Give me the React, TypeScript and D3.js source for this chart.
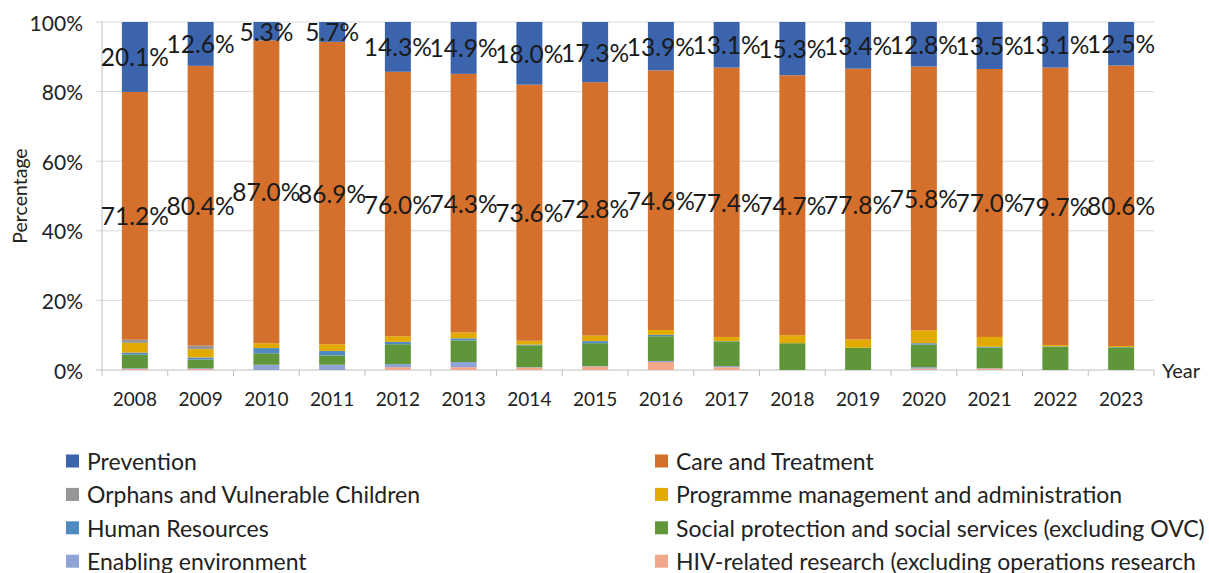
import React from 'react';
import * as d3 from 'd3';

const years = ['2008','2009','2010','2011','2012','2013','2014','2015','2016','2017','2018','2019','2020','2021','2022','2023'];
const prevention = [20.1,12.6,5.3,5.7,14.3,14.9,18.0,17.3,13.9,13.1,15.3,13.4,12.8,13.5,13.1,12.5];
const careTreatment = [71.2,80.4,87.0,86.9,76.0,74.3,73.6,72.8,74.6,77.4,74.7,77.8,75.8,77.0,79.7,80.6];
const orphans = [0.9,1.0,0,0,0,0,0,0,0,0,0,0,0,0,0,0];
const progMgmt = [2.8,2.4,1.4,1.9,1.6,1.7,1.1,1.6,1.4,1.2,2.3,2.4,3.7,2.8,0.4,0.3];
const humanRes = [0.6,0.6,1.5,1.3,0.7,0.6,0.2,0.6,0.4,0.1,0,0,0.4,0.2,0.1,0.1];
const socialProt = [3.9,2.5,3.3,2.7,5.7,6.2,6.3,6.6,7.1,7.1,7.7,6.4,6.5,6.0,6.7,6.5];
const enabling = [0.2,0.2,1.5,1.5,0.9,1.5,0.1,0.1,0.3,0.3,0,0,0.4,0.1,0,0];
const research = [0.3,0.3,0,0,0.8,0.8,0.7,1.0,2.3,0.8,0,0,0.4,0.4,0,0];
const yTicks = [0,20,40,60,80,100];

const seriesNames = [
  'Prevention',
  'Care and Treatment',
  'Orphans and Vulnerable Children',
  'Programme management and administration',
  'Human Resources',
  'Social protection and social services (excluding OVC)',
  'Enabling environment',
  'HIV-related research (excluding operations research',
];
const seriesValues = [prevention, careTreatment, orphans, progMgmt, humanRes, socialProt, enabling, research];
const seriesColors = ['#3b64ad','#d4702b','#969696','#e2aa00','#4f8bc2','#5f963a','#8fa3d6','#f2a68a'];

const FONT = 'Lato, "Open Sans", sans-serif';

export default function App() {
  const W = 1209, H = 573;
  const x = d3.scaleBand<string>().domain(years).range([102, 1154]).paddingInner(0.605).paddingOuter(0.3025);
  const y = d3.scaleLinear().domain([0, 100]).range([370, 22]);
  const step = x.step();

  const rows = years.map((yr, i) => {
    const r: Record<string, any> = { year: yr };
    seriesNames.forEach((n, k) => { r[n] = seriesValues[k][i]; });
    return r;
  });
  const keys = [...seriesNames].reverse();
  const stacked = d3.stack<any>().keys(keys)(rows);
  const byName: Record<string, any> = {};
  stacked.forEach(s => { byName[s.key] = s; });
  const colorOf = (n: string) => seriesColors[seriesNames.indexOf(n)];
  const labelled = ['Prevention', 'Care and Treatment'];

  const boundaries = d3.range(years.length + 1).map(i => x.range()[0] + i * step);

  return (
    <svg width={W} height={H} style={{ position: 'absolute', left: 0, top: 0, background: '#fff' }} fontFamily={FONT}>
      {yTicks.map(t => (
        <g key={t}>
          <line x1={96} x2={1154} y1={y(t)} y2={y(t)} stroke={t === 0 ? '#bfbfbf' : '#d9d9d9'} strokeWidth={1} />
          <text x={83} y={y(t)} textAnchor="end" dominantBaseline="central" fontSize={21} fill="#222">{t}%</text>
        </g>
      ))}
      <line x1={102} x2={102} y1={y(100)} y2={y(0)} stroke="#bfbfbf" />
      {boundaries.map((b, i) => (
        <line key={i} x1={b} x2={b} y1={y(0)} y2={y(0) + 6} stroke="#bfbfbf" />
      ))}
      {stacked.map(s => (
        <g key={s.key} fill={colorOf(s.key)}>
          {s.map((d: any, i: number) => (
            d[1] - d[0] > 0 ? (
              <rect key={i} x={x(years[i])} width={x.bandwidth()} y={y(d[1])} height={y(d[0]) - y(d[1])} />
            ) : null
          ))}
        </g>
      ))}
      {labelled.map(n => byName[n].map((d: any, i: number) => (
        <text key={n + i} x={(x(years[i]) as number) + x.bandwidth() / 2} y={y((d[0] + d[1]) / 2)}
          textAnchor="middle" dominantBaseline="central" fontSize={24.5} fill="#1a1a1a">
          {seriesValues[seriesNames.indexOf(n)][i].toFixed(1)}%
        </text>
      )))}
      {years.map(yr => (
        <text key={yr} x={(x(yr) as number) + x.bandwidth() / 2} y={398} textAnchor="middle" dominantBaseline="central" fontSize={19} fill="#222">{yr}</text>
      ))}
      <text x={1162} y={370} dominantBaseline="central" fontSize={20} fill="#222">Year</text>
      <text transform={`translate(19,196) rotate(-90)`} textAnchor="middle" dominantBaseline="central" fontSize={19.5} fill="#222">Percentage</text>
      {seriesNames.map((n, k) => {
        const col = k % 2;
        const row = Math.floor(k / 2);
        const lx = col === 0 ? 66 : 655;
        const ly = 461 + row * 33.4;
        return (
          <g key={n}>
            <rect x={lx} y={ly - 6.5} width={13} height={13} fill={seriesColors[k]} />
            <text x={lx + 21} y={ly} dominantBaseline="central" fontSize={23} fill="#222">{n}</text>
          </g>
        );
      })}
    </svg>
  );
}
